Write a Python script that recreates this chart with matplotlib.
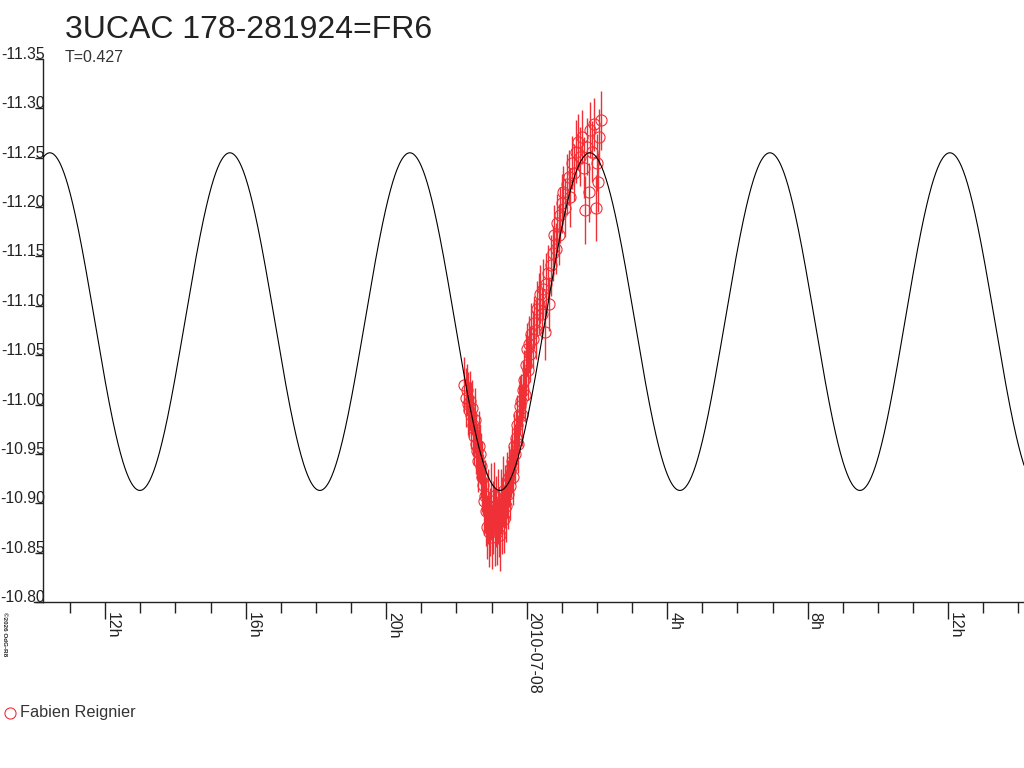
import matplotlib
matplotlib.use("Agg")
import matplotlib.pyplot as plt
import numpy as np
from matplotlib.lines import Line2D

plt.rcParams['font.family'] = ['Liberation Sans', 'DejaVu Sans']

# ---- data (time in hours relative to 2010-07-08 00:00 UT) ----
obs_hours = [-1.785, -1.728, -1.699, -1.671, -1.642, -1.614, -1.586, -1.557, -1.529, -1.500,
             -1.472, -1.443, -1.415, -1.386, -1.358, -1.329, -1.301, -1.273, -1.244, -1.216,
             -1.187, -1.159, -1.130, -1.102, -1.073, -1.045, -1.017, -0.988, -0.960, -0.931,
             -0.903, -0.874, -0.845, -0.817, -0.788, -0.760, -0.732, -0.703, -0.675, -0.646,
             -0.618, -0.589, -0.561, -0.532, -0.504, -0.475, -0.447, -0.418, -0.390, -0.361,
             -0.333, -0.305, -0.276, -0.248, -0.219, -0.191, -0.162, -0.134, -0.105, -0.077,
             -0.048, -0.020, 0.009, 0.037, 0.065, 0.094, 0.122, 0.179, 0.208, 0.265,
             0.293, 0.350, 0.379, 0.436, 0.464, 0.521, 0.549, 0.606, 0.635, 0.692,
             0.749, 0.777, 0.834, 0.863, 0.920, 0.948, 1.005, 1.033, 1.090, 1.147,
             1.204, 1.233, 1.290, 1.346, 1.403, 1.460, 1.517, 1.574, 1.631, 1.660,
             1.717, 1.773, 1.802, 1.859, 1.916, 1.973, 2.001, 2.030, 2.058, 2.115]
obs_mag = [-11.020, -11.007, -11.015, -11.001, -10.994, -11.004, -10.989, -10.997, -10.979, -10.968,
           -10.984, -10.960, -10.953, -10.943, -10.958, -10.950, -10.938, -10.927, -10.919, -10.902,
           -10.907, -10.892, -10.876, -10.897, -10.871, -10.881, -10.902, -10.866, -10.886, -10.907,
           -10.876, -10.892, -10.871, -10.897, -10.881, -10.868, -10.902, -10.888, -10.912, -10.884,
           -10.907, -10.897, -10.919, -10.909, -10.927, -10.917, -10.936, -10.943, -10.927, -10.958,
           -10.950, -10.966, -10.979, -10.960, -10.989, -10.999, -11.004, -10.989, -11.015, -11.025,
           -11.010, -11.040, -11.056, -11.035, -11.061, -11.051, -11.071, -11.066, -11.083, -11.076,
           -11.097, -11.102, -11.112, -11.092, -11.117, -11.073, -11.122, -11.133, -11.102, -11.141,
           -11.153, -11.172, -11.158, -11.184, -11.172, -11.192, -11.204, -11.215, -11.199, -11.223,
           -11.230, -11.210, -11.245, -11.235, -11.256, -11.266, -11.251, -11.271, -11.240, -11.197,
           -11.261, -11.215, -11.278, -11.256, -11.284, -11.199, -11.245, -11.225, -11.271, -11.288]
obs_err = [0.028, 0.030, 0.026, 0.032, 0.027, 0.030, 0.034, 0.028, 0.031, 0.029,
           0.033, 0.030, 0.028, 0.032, 0.035, 0.030, 0.033, 0.036, 0.031, 0.034,
           0.037, 0.035, 0.032, 0.038, 0.036, 0.034, 0.039, 0.033, 0.037, 0.035,
           0.040, 0.036, 0.034, 0.038, 0.035, 0.037, 0.033, 0.039, 0.036, 0.034,
           0.032, 0.036, 0.033, 0.035, 0.031, 0.034, 0.030, 0.033, 0.029, 0.032,
           0.030, 0.028, 0.031, 0.029, 0.032, 0.030, 0.027, 0.031, 0.029, 0.030,
           0.028, 0.031, 0.027, 0.030, 0.029, 0.028, 0.032, 0.029, 0.027, 0.030,
           0.028, 0.031, 0.029, 0.026, 0.030, 0.028, 0.032, 0.029, 0.027, 0.031,
           0.028, 0.030, 0.026, 0.029, 0.031, 0.028, 0.030, 0.027, 0.029, 0.031,
           0.028, 0.030, 0.027, 0.029, 0.032, 0.028, 0.030, 0.027, 0.031, 0.034,
           0.029, 0.030, 0.028, 0.031, 0.027, 0.033, 0.029, 0.030, 0.028, 0.030]

# sinusoidal fit parameters
fit_mean = -11.084
fit_amp = 0.171
fit_period_h = 5.125
fit_tmax_h = 1.80

x_min, x_max = -13.77, 14.16
y_ticks = [-11.35, -11.30, -11.25, -11.20, -11.15, -11.10, -11.05,
           -11.00, -10.95, -10.90, -10.85, -10.80]
x_major = [-12, -8, -4, 0, 4, 8, 12]
x_major_labels = ["12h", "16h", "20h", "2010-07-08", "4h", "8h", "12h"]

title = "3UCAC 178-281924=FR6"
subtitle = "T=0.427"
observer = "Fabien Reignier"
credit = "©2026 OdG-R8"

RED = "#ef3036"
INK = "#222222"

W, H = 1024, 768
fig = plt.figure(figsize=(W / 100, H / 100), dpi=100)
ax = fig.add_axes([43 / W, 1 - 602 / H, 1 - 43 / W, (602 - 59) / H])

# fit curve
tt = np.linspace(x_min, x_max, 2000)
curve = fit_mean - fit_amp * np.cos(2 * np.pi * (tt - fit_tmax_h) / fit_period_h)
ax.plot(tt, curve, color="black", lw=0.8, zorder=3)

# observations
ax.errorbar(obs_hours, obs_mag, yerr=obs_err, fmt="o", ms=8, mfc="none",
            mec=RED, mew=0.8, ecolor=RED, elinewidth=1.0, capsize=0, zorder=2)

ax.set_xlim(x_min, x_max)
ax.set_ylim(-10.80, -11.35)

for s in ("top", "right"):
    ax.spines[s].set_visible(False)
for s in ("left", "bottom"):
    ax.spines[s].set_linewidth(1.0)
    ax.spines[s].set_color(INK)

ax.set_yticks(y_ticks)
ax.set_yticklabels([f"{v:.2f}" for v in y_ticks])
ax.tick_params(axis="y", direction="out", length=6, width=1, pad=-7.5,
               labelsize=11.3, colors=INK)
for lab in ax.get_yticklabels():
    lab.set_va("baseline")

ax.set_xticks(x_major)
ax.set_xticks(np.arange(-13, 15, 1), minor=True)
ax.set_xticklabels(x_major_labels, rotation=-90, ha="left", va="top")
ax.tick_params(axis="x", which="major", direction="out", length=12, width=1,
               pad=-5, labelsize=11.5, colors=INK)
ax.tick_params(axis="x", which="minor", direction="out", length=8, width=1,
               colors=INK)

# small extension of the x-axis line to the left of the y-axis
fig.add_artist(Line2D([34 / W, 43 / W], [1 - 602 / H, 1 - 602 / H],
                      color=INK, lw=1.0))

fig.text(65 / W, 1 - 30 / H, title, fontsize=23, va="center", ha="left",
         color=INK)
fig.text(65 / W, 1 - 58 / H, subtitle, fontsize=11.5, va="center", ha="left",
         color="#333333")

# legend
fig.add_artist(Line2D([10 / W], [1 - 713 / H], marker="o", ms=8, mfc="none",
                      mec=RED, mew=0.8, ls="none"))
fig.text(20 / W, 1 - 712 / H, observer, fontsize=11.7, va="center", ha="left",
         color="#333333")

fig.text(4 / W, 1 - 612 / H, credit, fontsize=4.5, rotation=-90, ha="center",
         va="top", color=INK, fontweight="bold")

fig.savefig("out.png", dpi=100)
